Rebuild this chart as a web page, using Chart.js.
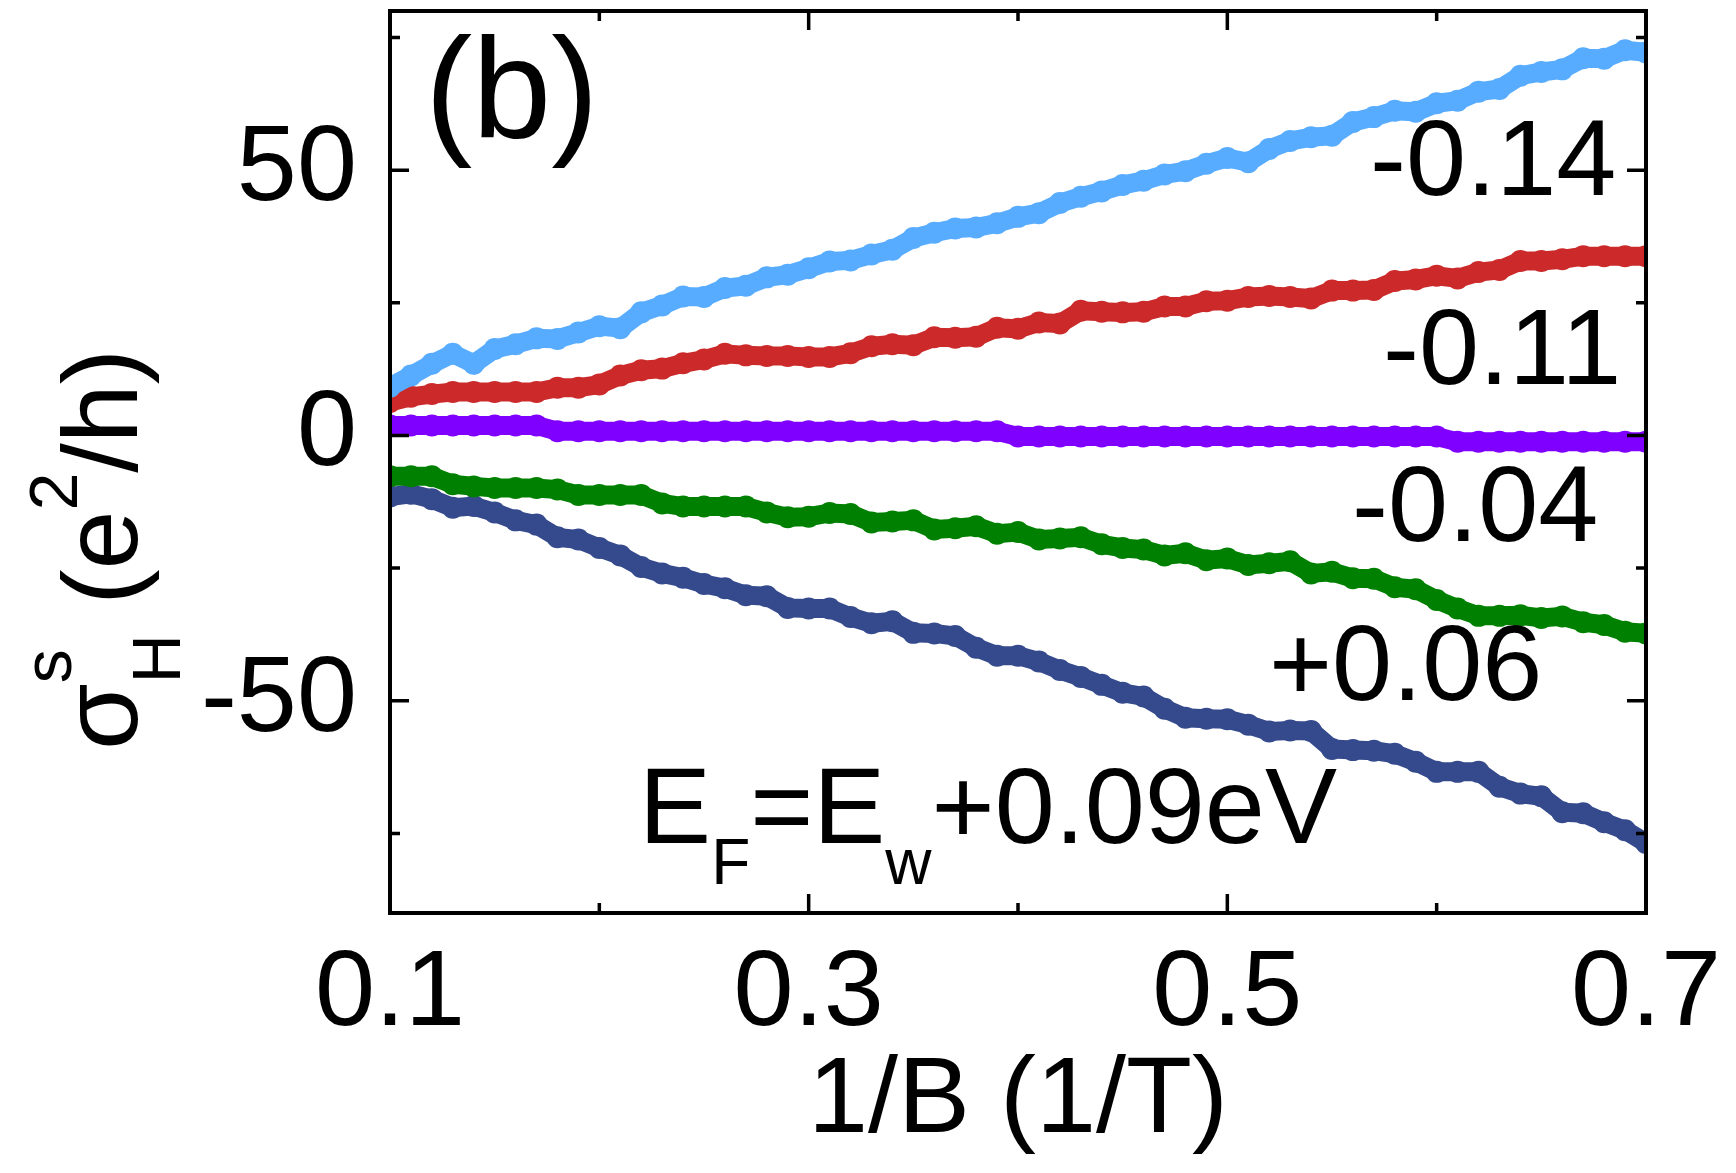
<!DOCTYPE html>
<html>
<head>
<meta charset="utf-8">
<title>Spin Hall conductivity vs 1/B</title>
<script src="https://cdn.jsdelivr.net/npm/chart.js@4.4.1/dist/chart.umd.min.js"></script>
<style>
  html, body { margin: 0; padding: 0; background: #fff; }
  canvas { display: block; }
</style>
</head>
<body>
<canvas id="hallChart" width="1736" height="1173"></canvas>
<script>
// 1/B (1/T)
const invB = [0.10, 0.11, 0.12, 0.13, 0.14, 0.15, 0.16, 0.17, 0.18, 0.19,
  0.20, 0.21, 0.22, 0.23, 0.24, 0.25, 0.26, 0.27, 0.28, 0.29,
  0.30, 0.31, 0.32, 0.33, 0.34, 0.35, 0.36, 0.37, 0.38, 0.39,
  0.40, 0.41, 0.42, 0.43, 0.44, 0.45, 0.46, 0.47, 0.48, 0.49,
  0.50, 0.51, 0.52, 0.53, 0.54, 0.55, 0.56, 0.57, 0.58, 0.59,
  0.60, 0.61, 0.62, 0.63, 0.64, 0.65, 0.66, 0.67, 0.68, 0.69, 0.70];

// sigma_H^s (e^2/h) for each E_F - E_w (eV)
const sigmaM014 = [9.2, 11.3, 13.5, 15.4, 13.5, 16.3, 17.2, 18.3, 18.2, 19.4,
  20.6, 20.2, 23.2, 24.5, 26.2, 26.1, 27.8, 28.2, 29.8, 30.3,
  31.5, 32.8, 33.0, 34.1, 35.0, 37.2, 38.2, 39.0, 39.2, 40.0,
  41.2, 41.9, 43.8, 45.0, 46.0, 47.2, 48.0, 49.2, 49.8, 51.2,
  52.3, 51.5, 54.0, 55.5, 56.2, 56.5, 59.1, 60.0, 61.2, 61.0,
  62.6, 63.1, 64.8, 65.3, 67.8, 68.5, 69.0, 71.1, 71.0, 72.6, 72.2];

const sigmaM011 = [6.3, 7.3, 7.8, 8.2, 8.2, 8.2, 8.2, 8.2, 9.0, 9.0,
  9.6, 11.3, 12.3, 12.6, 13.6, 14.3, 15.4, 15.1, 15.0, 15.0,
  14.8, 14.8, 15.5, 16.8, 17.2, 17.0, 18.5, 18.4, 18.6, 20.3,
  20.1, 21.3, 21.1, 23.5, 23.3, 23.2, 23.3, 24.3, 24.3, 25.3,
  25.4, 26.1, 26.3, 26.1, 25.8, 27.3, 27.3, 27.4, 29.1, 29.4,
  30.1, 29.6, 30.8, 31.2, 32.9, 32.9, 33.2, 33.8, 33.8, 33.8, 33.8];

const sigmaM004 = [1.9, 1.9, 1.9, 1.9, 1.9, 1.9, 1.9, 1.9, 0.8, 0.8,
  0.8, 0.8, 0.8, 0.8, 0.8, 0.8, 0.8, 0.8, 0.8, 0.8,
  0.8, 0.8, 0.8, 0.8, 0.8, 0.8, 0.8, 0.8, 0.8, 0.8,
  -0.2, -0.2, -0.2, -0.2, -0.2, -0.2, -0.2, -0.2, -0.2, -0.2,
  -0.2, -0.2, -0.2, -0.2, -0.2, -0.2, -0.2, -0.2, -0.2, -0.2,
  -0.2, -1.2, -1.2, -1.2, -1.2, -1.2, -1.2, -1.2, -1.2, -1.2, -1.2];

const sigmaP006 = [-7.7, -7.7, -7.7, -9.2, -9.6, -9.9, -9.9, -9.9, -10.2, -11.2,
  -11.2, -11.2, -11.2, -12.8, -13.4, -13.4, -13.4, -13.4, -14.5, -15.4,
  -15.3, -14.6, -14.8, -16.4, -16.2, -16.0, -17.7, -17.5, -17.1, -18.5,
  -18.2, -19.6, -19.4, -19.2, -20.5, -21.2, -21.5, -22.6, -22.2, -23.5,
  -23.2, -24.4, -24.1, -23.7, -26.0, -25.7, -26.9, -27.0, -28.6, -29.0,
  -31.0, -32.6, -34.0, -34.0, -33.9, -34.4, -34.1, -35.2, -35.7, -37.0, -37.3];

const sigmaP009 = [-11.5, -11.0, -12.0, -13.6, -13.3, -14.5, -16.0, -16.8, -19.2, -19.6,
  -21.2, -22.6, -24.8, -26.0, -26.8, -28.0, -28.8, -30.1, -30.3, -32.5,
  -32.6, -32.6, -34.2, -35.4, -35.0, -37.2, -37.3, -37.8, -40.0, -41.5,
  -41.5, -42.6, -44.2, -45.5, -47.0, -48.5, -49.2, -51.5, -53.2, -53.4,
  -53.5, -54.5, -55.8, -55.6, -55.7, -59.1, -59.3, -59.4, -60.0, -61.5,
  -63.4, -63.4, -63.4, -66.2, -67.5, -68.0, -71.0, -71.2, -72.9, -74.4, -76.8];

// axis ticks
const xMajorTicks = [0.1, 0.3, 0.5, 0.7];
const xMinorTicks = [0.2, 0.4, 0.6];
const yMajorTicks = [-50, 0, 50];
const yMinorTicks = [-75, -25, 25, 75];

const FONT = '"Liberation Sans", Arial, Helvetica, sans-serif';

function points(ys) {
  return invB.map((x, i) => ({ x: x, y: ys[i] }));
}

function series(ys, color) {
  return {
    data: points(ys),
    showLine: true,
    borderColor: color,
    backgroundColor: color,
    borderWidth: 19,
    pointRadius: 11,
    pointBorderWidth: 0,
    pointHoverRadius: 11,
    clip: 0
  };
}

// draws a run of text pieces, each with its own size and baseline shift
function drawPieces(ctx, x, y, pieces) {
  pieces.forEach(p => {
    ctx.font = p.size + 'px ' + FONT;
    ctx.fillText(p.text, x, y + (p.dy || 0));
    if (p.advance !== false) x += ctx.measureText(p.text).width;
  });
}

// keep the plot box where the figure has it
function noPad(s) {
  s.paddingTop = 0;
  s.paddingBottom = 0;
  s.paddingLeft = 0;
  s.paddingRight = 0;
}

// inward ticks on all four sides plus the frame
const framePlugin = {
  id: 'frame',
  afterDatasetsDraw(chart) {
    const { ctx, chartArea: a, scales: { x, y } } = chart;
    ctx.save();
    ctx.strokeStyle = '#000';
    ctx.lineWidth = 3.5;
    ctx.beginPath();
    const xTick = (v, len) => {
      const px = x.getPixelForValue(v);
      ctx.moveTo(px, a.bottom); ctx.lineTo(px, a.bottom - len);
      ctx.moveTo(px, a.top); ctx.lineTo(px, a.top + len);
    };
    const yTick = (v, len) => {
      const py = y.getPixelForValue(v);
      ctx.moveTo(a.left, py); ctx.lineTo(a.left + len, py);
      ctx.moveTo(a.right, py); ctx.lineTo(a.right - len, py);
    };
    xMajorTicks.forEach(v => xTick(v, 19));
    xMinorTicks.forEach(v => xTick(v, 10));
    yMajorTicks.forEach(v => yTick(v, 19));
    yMinorTicks.forEach(v => yTick(v, 10));
    ctx.stroke();
    ctx.lineWidth = 4;
    ctx.strokeRect(a.left, a.top, a.right - a.left, a.bottom - a.top);
    ctx.restore();
  },
  afterDraw(chart) {
    const { ctx, scales: { x, y } } = chart;
    ctx.save();
    ctx.fillStyle = '#000';
    ctx.textAlign = 'left';
    ctx.textBaseline = 'alphabetic';

    // panel letter and curve labels, placed in data coordinates
    ctx.font = '142px ' + FONT;
    ctx.fillText('(b)', x.getPixelForValue(0.1167), y.getPixelForValue(56.1));
    ctx.font = '108px ' + FONT;
    ctx.fillText('-0.14', x.getPixelForValue(0.5682), y.getPixelForValue(45.4));
    ctx.fillText('-0.11', x.getPixelForValue(0.5744), y.getPixelForValue(9.75));
    ctx.fillText('-0.04', x.getPixelForValue(0.5596), y.getPixelForValue(-19.9));
    ctx.fillText('+0.06', x.getPixelForValue(0.5199), y.getPixelForValue(-49.9));

    drawPieces(ctx, x.getPixelForValue(0.219), y.getPixelForValue(-76.9), [
      { text: 'E', size: 108 },
      { text: 'F', size: 64, dy: 41 },
      { text: '=E', size: 108 },
      { text: 'w', size: 64, dy: 41 },
      { text: '+0.09eV', size: 108 }
    ]);

    // y axis title, rotated
    ctx.translate(137, 750);
    ctx.rotate(-Math.PI / 2);
    drawPieces(ctx, 0, 0, [
      { text: '\u03C3', size: 108 },
      { text: 's', size: 68, dy: -66, advance: false },
      { text: 'H', size: 68, dy: 43 },
      { text: ' (e', size: 106 },
      { text: '2', size: 68, dy: -60 },
      { text: '/h)', size: 106 }
    ]);
    ctx.restore();
  }
};

const ctx = document.getElementById('hallChart').getContext('2d');
new Chart(ctx, {
  type: 'scatter',
  data: {
    datasets: [
      series(sigmaM014, '#58acff'),
      series(sigmaM011, '#cc2a2a'),
      series(sigmaM004, '#8000ff'),
      series(sigmaP006, '#008000'),
      series(sigmaP009, '#354a8c')
    ]
  },
  options: {
    responsive: false,
    devicePixelRatio: 1,
    animation: false,
    layout: { padding: { top: 6, right: 90, left: 0, bottom: 0 } },
    plugins: {
      legend: { display: false },
      tooltip: { enabled: false }
    },
    scales: {
      x: {
        type: 'linear',
        min: 0.1,
        max: 0.7,
        afterBuildTicks: s => { s.ticks = xMajorTicks.map(v => ({ value: v })); },
        afterFit: s => { s.height = 260; noPad(s); },
        grid: { display: false },
        border: { display: false },
        ticks: {
          padding: 9,
          color: '#000',
          maxRotation: 0,
          font: { family: FONT, size: 108 },
          callback: v => v.toFixed(1)
        },
        title: {
          display: true,
          text: '1/B (1/T)',
          color: '#000',
          padding: { top: 0, bottom: 6 },
          font: { family: FONT, size: 108, lineHeight: 1.2 }
        }
      },
      y: {
        min: -90,
        max: 80,
        afterBuildTicks: s => { s.ticks = yMajorTicks.map(v => ({ value: v })); },
        afterFit: s => { s.width = 390; noPad(s); },
        grid: { display: false },
        border: { display: false },
        ticks: {
          padding: 25,
          color: '#000',
          font: { family: FONT, size: 108 },
          callback: v => String(v)
        }
      }
    }
  },
  plugins: [framePlugin]
});
</script>
</body>
</html>
